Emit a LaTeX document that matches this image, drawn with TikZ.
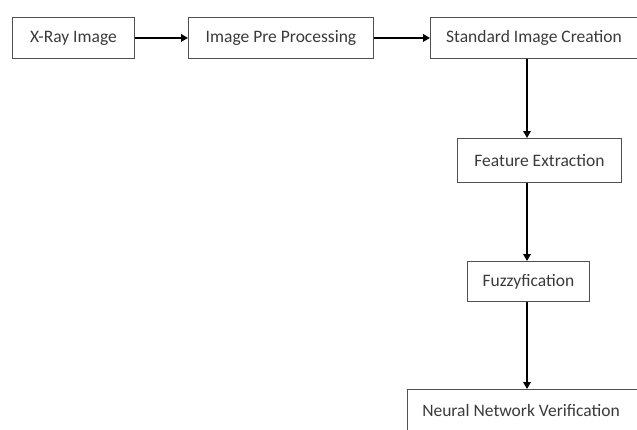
\documentclass[tikz,border=0pt]{standalone}
\usepackage{fontspec}
\setmainfont{Carlito}
\usetikzlibrary{arrows.meta}
\definecolor{txt}{HTML}{3A3A3A}
\definecolor{boxline}{HTML}{505050}
\begin{document}
\begin{tikzpicture}[x=1pt,y=-1pt,
  box/.style={draw=boxline,line width=0.9pt,text=txt,font=\fontsize{17.5}{20}\selectfont,inner sep=0pt,anchor=north west},
  link/.style={draw=black,line width=2pt,-{Triangle[length=7pt,width=7.5pt]}}]
\useasboundingbox (0,0) rectangle (637,429);
\clip (0,0) rectangle (637,429);
\node[box,minimum width=122pt,minimum height=41pt] (xray) at (12,17) {X-Ray Image};
\node[box,minimum width=185pt,minimum height=41pt] (pre) at (188,17) {Image Pre Processing};
\node[box,minimum width=207pt,minimum height=41pt] (std) at (430,17) {Standard Image Creation};
\node[box,minimum width=164pt,minimum height=44pt] (feat) at (457,138) {Feature Extraction};
\node[box,minimum width=122pt,minimum height=40pt] (fuzz) at (467,261) {Fuzzyfication};
\node[box,minimum width=240pt,minimum height=46pt] (nn) at (407,389) {};
\node[text=txt,font=\fontsize{17.5}{20}\selectfont,inner sep=0pt] (nnt) at (521,410) {Neural Network Verification};
\coordinate (col) at (527,0);
\draw[link] (xray.east) -- (pre.west);
\draw[link] (pre.east) -- (std.west);
\draw[link] (std.south -| col) -- (feat.north -| col);
\draw[link] (feat.south -| col) -- (fuzz.north -| col);
\draw[link] (fuzz.south -| col) -- (nn.north -| col);
\end{tikzpicture}
\end{document}
